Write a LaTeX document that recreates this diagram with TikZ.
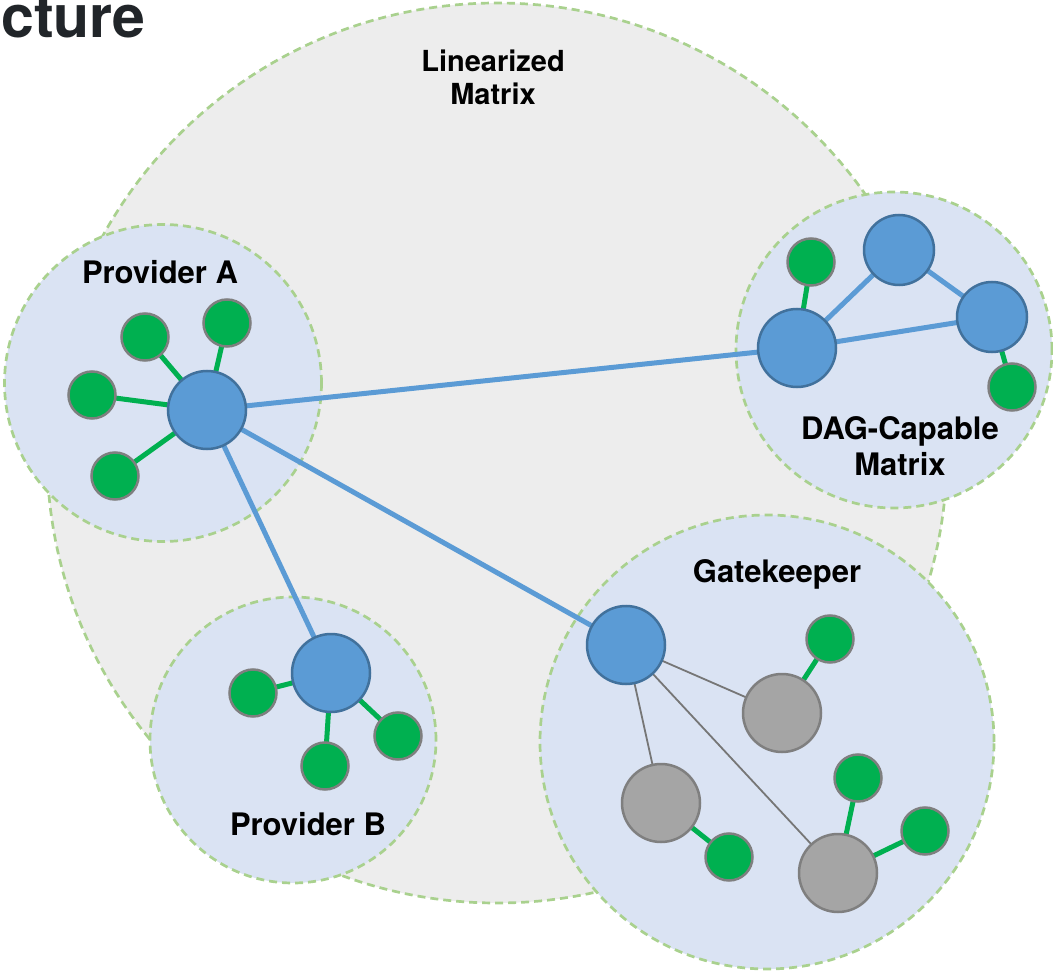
\documentclass[tikz,border=0pt]{standalone}
\usepackage{fontspec}
\setmainfont{TeX Gyre Heros}
\definecolor{regionfill}{HTML}{DAE3F3}
\definecolor{bigfill}{HTML}{EDEDED}
\definecolor{dashgreen}{HTML}{A9D18E}
\definecolor{hubblue}{HTML}{5B9BD5}
\definecolor{hubedge}{HTML}{41719C}
\definecolor{leafgreen}{HTML}{00B050}
\definecolor{leafedge}{HTML}{7F7F7F}
\definecolor{grayfill}{HTML}{A5A5A5}
\definecolor{thingray}{HTML}{767676}
\definecolor{titlecol}{HTML}{212529}
\pgfdeclarelayer{regions}
\pgfdeclarelayer{edges}
\pgfsetlayers{regions,edges,main}
\begin{document}
\begin{tikzpicture}[x=1pt,y=-1pt,
  region/.style={circle, draw=dashgreen, fill=regionfill, dash pattern=on 8pt off 5pt, line width=2.7pt, inner sep=0pt},
  hub/.style={circle, fill=hubblue, draw=hubedge, line width=2.5pt, inner sep=0pt, minimum size=78pt},
  leaf/.style={circle, fill=leafgreen, draw=leafedge, line width=2.5pt, inner sep=0pt, minimum size=47pt},
  gnode/.style={circle, fill=grayfill, draw=leafedge, line width=2.5pt, inner sep=0pt, minimum size=78pt},
  bluelink/.style={draw=hubblue, line width=5pt},
  greenlink/.style={draw=leafgreen, line width=5pt},
  graylink/.style={draw=thingray, line width=1.8pt},
  lbl/.style={font=\bfseries\fontsize{31}{36}\selectfont, align=center, inner sep=0pt}
]
\useasboundingbox (0,0) rectangle (1053,976);

\begin{pgfonlayer}{regions}
\node[region, fill=bigfill, minimum size=900pt] (lin) at (497,453) {};
\node[region, minimum size=317pt] (regA) at (163,383) {};
\node[region, minimum size=316pt] (regDAG) at (894,350) {};
\node[region, minimum size=454pt] (regG) at (767,742) {};
\node[region, minimum size=286pt] (regB) at (293,740) {};
\end{pgfonlayer}

% title
\node[anchor=base east, text=titlecol, font=\bfseries\fontsize{59}{62}\selectfont, inner sep=0pt] (title) at (146,38) {cture};

% labels
\node[lbl, font=\bfseries\fontsize{29}{33}\selectfont] (linlbl) at (493,77) {Linearized\\Matrix};
\node[lbl] (albl) at (160,272) {Provider A};
\node[lbl] (dlbl) at (900,446) {DAG-Capable\\Matrix};
\node[lbl] (glbl) at (777,574) {Gatekeeper};
\node[lbl] (blbl) at (308,824) {Provider B};

% Provider A
\node[hub] (ha) at (207,410) {};
\node[leaf] (a1) at (145,337) {};
\node[leaf] (a2) at (227,323) {};
\node[leaf] (a3) at (92,395) {};
\node[leaf] (a4) at (115,476) {};

% DAG
\node[hub] (hd) at (797,348) {};
\node[hub, minimum size=70pt] (d1) at (899,250) {};
\node[hub, minimum size=70pt] (d2) at (992,317) {};
\node[leaf] (dl1) at (811,262) {};
\node[leaf] (dl2) at (1012,387) {};

% Gatekeeper
\node[hub] (hg) at (626,645) {};
\node[gnode] (g1) at (782,713) {};
\node[gnode] (g2) at (661,803) {};
\node[gnode] (g3) at (838,873) {};
\node[leaf] (gl1) at (830,639) {};
\node[leaf] (gl2) at (729,857) {};
\node[leaf] (gl3) at (858,778) {};
\node[leaf] (gl4) at (925,831) {};

% Provider B
\node[hub] (hb) at (331,673) {};
\node[leaf] (b1) at (253,693) {};
\node[leaf] (b2) at (325,766) {};
\node[leaf] (b3) at (398,736) {};

\begin{pgfonlayer}{edges}
\draw[bluelink] (ha.center) -- (hd.center);
\draw[bluelink] (ha.center) -- (hg.center);
\draw[bluelink] (ha.center) -- (hb.center);
\draw[bluelink] (hd.center) -- (d1.center);
\draw[bluelink] (d1.center) -- (d2.center);
\draw[bluelink] (hd.center) -- (d2.center);
\foreach \n in {a1,a2,a3,a4} \draw[greenlink] (ha.center) -- (\n.center);
\draw[greenlink] (hd.center) -- (dl1.center);
\draw[greenlink] (d2.center) -- (dl2.center);
\foreach \n in {b1,b2,b3} \draw[greenlink] (hb.center) -- (\n.center);
\draw[graylink] (hg.center) -- (g1.center);
\draw[graylink] (hg.center) -- (g2.center);
\draw[graylink] (hg.center) -- (g3.center);
\draw[greenlink] (g1.center) -- (gl1.center);
\draw[greenlink] (g2.center) -- (gl2.center);
\draw[greenlink] (g3.center) -- (gl3.center);
\draw[greenlink] (g3.center) -- (gl4.center);
\end{pgfonlayer}
\end{tikzpicture}
\end{document}
